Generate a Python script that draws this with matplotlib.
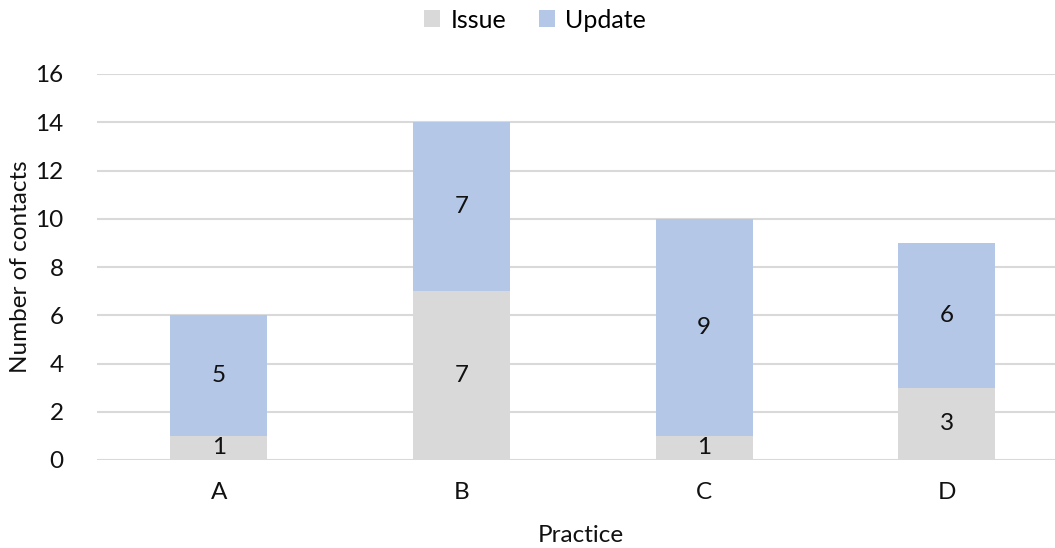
import matplotlib
matplotlib.use("Agg")
import matplotlib.pyplot as plt
import numpy as np

practices = ["A", "B", "C", "D"]
issue = [1, 7, 1, 3]
update = [5, 7, 9, 6]

plt.rcParams['font.family'] = ['Lato', 'DejaVu Sans']
FS = 17.5

fig = plt.figure(figsize=(10.55, 5.48), dpi=100)
ax = fig.add_axes([97 / 1055, 88 / 548, 958 / 1055, 386 / 548])

x = np.arange(len(practices))
w = 0.4
gray = "#D9D9D9"
blue = "#B4C7E7"
b1 = ax.bar(x, issue, w, color=gray, label="Issue", zorder=2)
b2 = ax.bar(x, update, w, bottom=issue, color=blue, label="Update", zorder=2)

for rect, v in zip(b1, issue):
    ax.text(rect.get_x() + w / 2, rect.get_y() + v / 2, str(v),
            ha="center", va="center", fontsize=FS, color="#111111")
for rect, v in zip(b2, update):
    ax.text(rect.get_x() + w / 2, rect.get_y() + v / 2, str(v),
            ha="center", va="center", fontsize=FS, color="#111111")

ax.set_xlim(-0.503, 3.447)
ax.set_ylim(0, 16)
ax.set_yticks(range(0, 17, 2))
ax.set_xticks(x)
ax.set_xticklabels(practices)
ax.tick_params(axis="both", length=0, labelsize=FS, colors="#111111")
ax.tick_params(axis="y", pad=24)
ax.tick_params(axis="x", pad=16)
ax.grid(axis="y", color="#D9D9D9", linewidth=1.5, zorder=0)
for s in ax.spines.values():
    s.set_visible(False)

ax.set_ylabel("Number of contacts", fontsize=FS, color="#111111")
ax.yaxis.set_label_coords(-0.069, 0.5)
ax.set_xlabel("Practice", fontsize=FS, color="#111111")
ax.xaxis.set_label_coords(0.505, -0.168)

fig.legend(handles=[b1, b2], loc="center", bbox_to_anchor=(535 / 1055, 1 - 20 / 548),
           ncol=2, frameon=False, fontsize=FS + 0.5, handlelength=0.65, handleheight=0.65,
           handletextpad=0.4, columnspacing=1.3)

fig.savefig("out.png", dpi=100)
